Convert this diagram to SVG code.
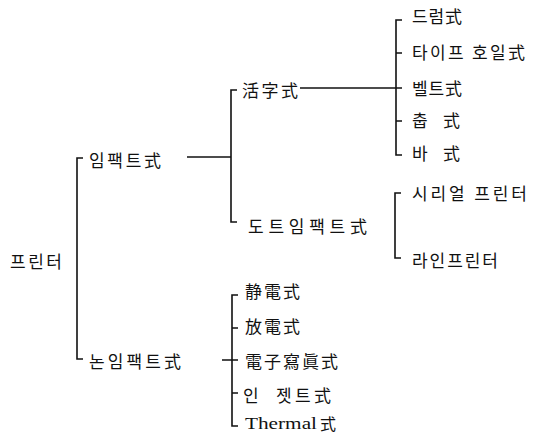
<svg xmlns="http://www.w3.org/2000/svg" width="538" height="435" viewBox="0 0 538 435">
<style>
text{font-family:"Noto Sans CJK KR","Noto Sans",sans-serif;font-size:17px;fill:#111;dominant-baseline:central}
.ser{font-family:"Liberation Serif",serif;font-size:17px}
#connectors path{fill:none;stroke:#111;stroke-width:1.6}
</style>
<rect width="538" height="435" fill="#fff"/>
<g id="connectors">
<path d="M83 158H77V359H83"/>
<path d="M187 157H231"/>
<path d="M237 90H231V222H237"/>
<path d="M300 88H402"/>
<path d="M402 20H396V155H402M396 53H402M396 121H402"/>
<path d="M401 193H395V258H401"/>
<path d="M238 295H232V426H238M232 328H238M222 360H238M232 393H238"/>
</g>
<g id="n-printer"><text x="10" y="260" textLength="52" lengthAdjust="spacing">프린터</text></g>
<g id="n-impact"><text x="89" y="159" textLength="72" lengthAdjust="spacing">임팩트式</text></g>
<g id="n-nonimpact"><text x="89" y="360" textLength="92" lengthAdjust="spacing">논임팩트式</text></g>
<g id="n-hwalja"><text x="242" y="89" textLength="56" lengthAdjust="spacing">活字式</text></g>
<g id="n-dot"><text x="248" y="225" textLength="119" lengthAdjust="spacing">도트임팩트式</text></g>
<g id="n-drum"><text x="412" y="15" textLength="50" lengthAdjust="spacing">드럼式</text></g>
<g id="n-typewheel"><text x="412" y="51" textLength="113" lengthAdjust="spacing">타이프 호일式</text></g>
<g id="n-belt"><text x="412" y="87" textLength="50" lengthAdjust="spacing">벨트式</text></g>
<g id="n-chain"><text x="412" y="119">춥</text><text x="443" y="119">式</text></g>
<g id="n-bar"><text x="412" y="152">바</text><text x="443" y="152">式</text></g>
<g id="n-serial"><text x="412" y="192" textLength="115" lengthAdjust="spacing">시리얼 프린터</text></g>
<g id="n-line"><text x="412" y="259" textLength="86" lengthAdjust="spacing">라인프린터</text></g>
<g id="n-electrostatic"><text x="245" y="290" textLength="55" lengthAdjust="spacing">静電式</text></g>
<g id="n-discharge"><text x="245" y="325" textLength="55" lengthAdjust="spacing">放電式</text></g>
<g id="n-electrophoto"><text x="245" y="360" textLength="93" lengthAdjust="spacing">電子寫眞式</text></g>
<g id="n-inkjet"><text x="243" y="394">인</text><text x="276" y="394" textLength="55" lengthAdjust="spacing">젯트式</text></g>
<g id="n-thermal"><text class="ser" x="245" y="423" textLength="72" lengthAdjust="spacingAndGlyphs">Thermal</text><text x="320" y="423" style="font-size:16px">式</text></g>
</svg>
